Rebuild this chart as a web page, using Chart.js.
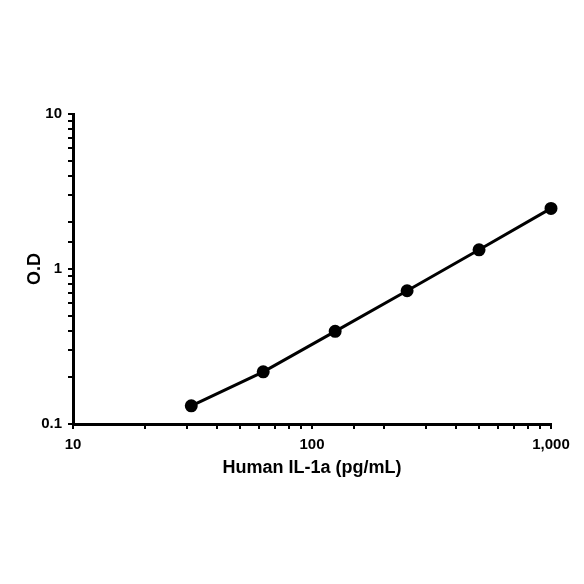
<!DOCTYPE html>
<html>
<head>
<meta charset="utf-8">
<script src="https://cdn.jsdelivr.net/npm/chart.js@4"></script>
<style>
  html, body { margin: 0; padding: 0; background: #fff; }
  #wrap { width: 584px; height: 584px; }
</style>
</head>
<body>
<div id="wrap"><canvas id="chart"></canvas></div>
<script>
// standard curve, concentration (pg/mL) vs optical density
const concentrations = [31.25, 62.5, 125, 250, 500, 1000];
const odValues = [0.131, 0.217, 0.396, 0.724, 1.33, 2.46];

const xTickLabels = { 10: '10', 100: '100', 1000: '1,000' };
const yTickLabels = { 0.1: '0.1', 1: '1', 10: '10' };

const points = concentrations.map((c, i) => ({ x: c, y: odValues[i] }));

const font = 'Liberation Sans, Arial, sans-serif';

new Chart(document.getElementById('chart'), {
  type: 'line',
  data: {
    datasets: [{
      data: points,
      borderColor: '#000',
      backgroundColor: '#000',
      borderWidth: 3,
      pointRadius: 5,
      pointHoverRadius: 5,
      tension: 0,
      clip: false
    }]
  },
  options: {
    responsive: true,
    maintainAspectRatio: false,
    animation: false,
    layout: { padding: { left: 20, right: 33, top: 114, bottom: 101 } },
    plugins: { legend: { display: false }, tooltip: { enabled: false } },
    scales: {
      x: {
        type: 'logarithmic',
        min: 10,
        max: 1000,
        border: { color: '#000', width: 3 },
        grid: { drawOnChartArea: false, color: '#000', tickColor: '#000', tickLength: 5, lineWidth: 2 },
        ticks: {
          autoSkip: false,
          maxRotation: 0,
          color: '#000',
          padding: 7,
          font: { family: font, size: 15, weight: 'bold' },
          callback: (v) => xTickLabels[v] || ''
        },
        title: {
          display: true,
          text: 'Human IL-1a (pg/mL)',
          color: '#000',
          font: { family: font, size: 18, weight: 'bold' }
        },
        afterFit: (scale) => { scale.height = 59; }
      },
      y: {
        type: 'logarithmic',
        min: 0.1,
        max: 10,
        border: { color: '#000', width: 3 },
        grid: { drawOnChartArea: false, color: '#000', tickColor: '#000', tickLength: 5, lineWidth: 2 },
        ticks: {
          autoSkip: false,
          color: '#000',
          padding: 6,
          font: { family: font, size: 15, weight: 'bold' },
          callback: (v) => yTickLabels[v] || ''
        },
        title: {
          display: true,
          text: 'O.D',
          color: '#000',
          font: { family: font, size: 18, weight: 'bold' }
        },
        afterFit: (scale) => { scale.width = 53; }
      }
    }
  }
});
</script>
</body>
</html>
